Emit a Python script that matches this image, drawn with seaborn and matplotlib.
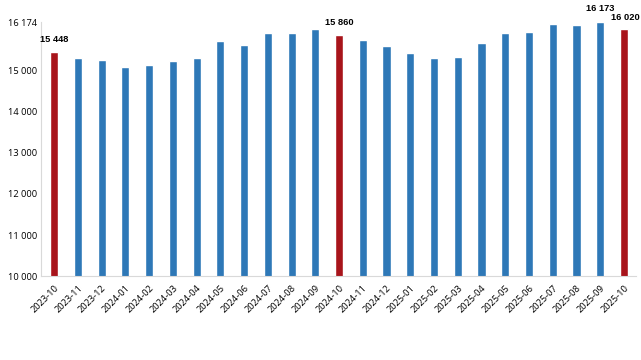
import matplotlib
matplotlib.use("Agg")
import matplotlib.pyplot as plt
import seaborn as sns
import pandas as pd

# 月份和数值
months = ["2023-10", "2023-11", "2023-12", "2024-01", "2024-02", "2024-03", "2024-04",
          "2024-05", "2024-06", "2024-07", "2024-08", "2024-09", "2024-10", "2024-11",
          "2024-12", "2025-01", "2025-02", "2025-03", "2025-04", "2025-05", "2025-06",
          "2025-07", "2025-08", "2025-09", "2025-10"]
values = [15448, 15310, 15250, 15080, 15140, 15235, 15310,
          15715, 15630, 15920, 15920, 16010, 15860, 15750,
          15595, 15430, 15310, 15335, 15680, 15910, 15945,
          16130, 16105, 16173, 16020]
# 标注的柱子
labeled = ["2023-10", "2024-10", "2025-09", "2025-10"]
highlight = ["2023-10", "2024-10", "2025-10"]
yticks = [10000, 11000, 12000, 13000, 14000, 15000, 16174]

blue = "#2E78B7"
red = "#A8141B"

df = pd.DataFrame({"month": months, "value": values})
df["kind"] = ["red" if m in highlight else "blue" for m in months]

sns.set_style("white")
plt.rcParams["font.family"] = ["Open Sans", "DejaVu Sans"]
plt.rcParams["text.color"] = "black"
plt.rcParams["xtick.color"] = "black"
plt.rcParams["ytick.color"] = "black"

fig, ax = plt.subplots(figsize=(6.41, 3.6), dpi=100)
fig.subplots_adjust(left=0.064, right=0.992, top=0.938, bottom=0.233)

sns.barplot(data=df, x="month", y="value", hue="kind",
            palette={"blue": blue, "red": red}, width=0.34,
            legend=False, ax=ax, saturation=1, dodge=False)

ax.set_ylim(10000, 16174)
ax.set_yticks(yticks)
ax.set_yticklabels([f"{t:,}".replace(",", " ") for t in yticks], fontsize=6.7)
ax.set_xticks(range(len(months)))
ax.set_xticklabels(months, rotation=45, ha="right", rotation_mode="anchor", fontsize=6.7)
ax.tick_params(axis="y", length=0, pad=3)
ax.tick_params(axis="x", length=0, pad=5)
ax.set_xlabel("")
ax.set_ylabel("")
ax.set_xlim(-0.55, len(months) - 0.5)

for s in ["top", "right"]:
    ax.spines[s].set_visible(False)
ax.spines["left"].set_color("#D9D9D9")
ax.spines["bottom"].set_color("#D9D9D9")
ax.spines["left"].set_linewidth(0.8)
ax.spines["bottom"].set_linewidth(0.8)

# 数值标注
for i, (m, v) in enumerate(zip(months, values)):
    if m in labeled:
        dx, dy = 0, 6
        if m == "2025-09":
            dy = 7
        if m == "2025-10":
            dx, dy = 1, 4.5
        ax.annotate(f"{v:,}".replace(",", " "), (i, v), xytext=(dx, dy),
                    textcoords="offset points", ha="center", va="bottom",
                    fontsize=6.7, fontweight="bold", family="Liberation Sans",
                    annotation_clip=False)

plt.savefig("out.png", dpi=100)
plt.close()
